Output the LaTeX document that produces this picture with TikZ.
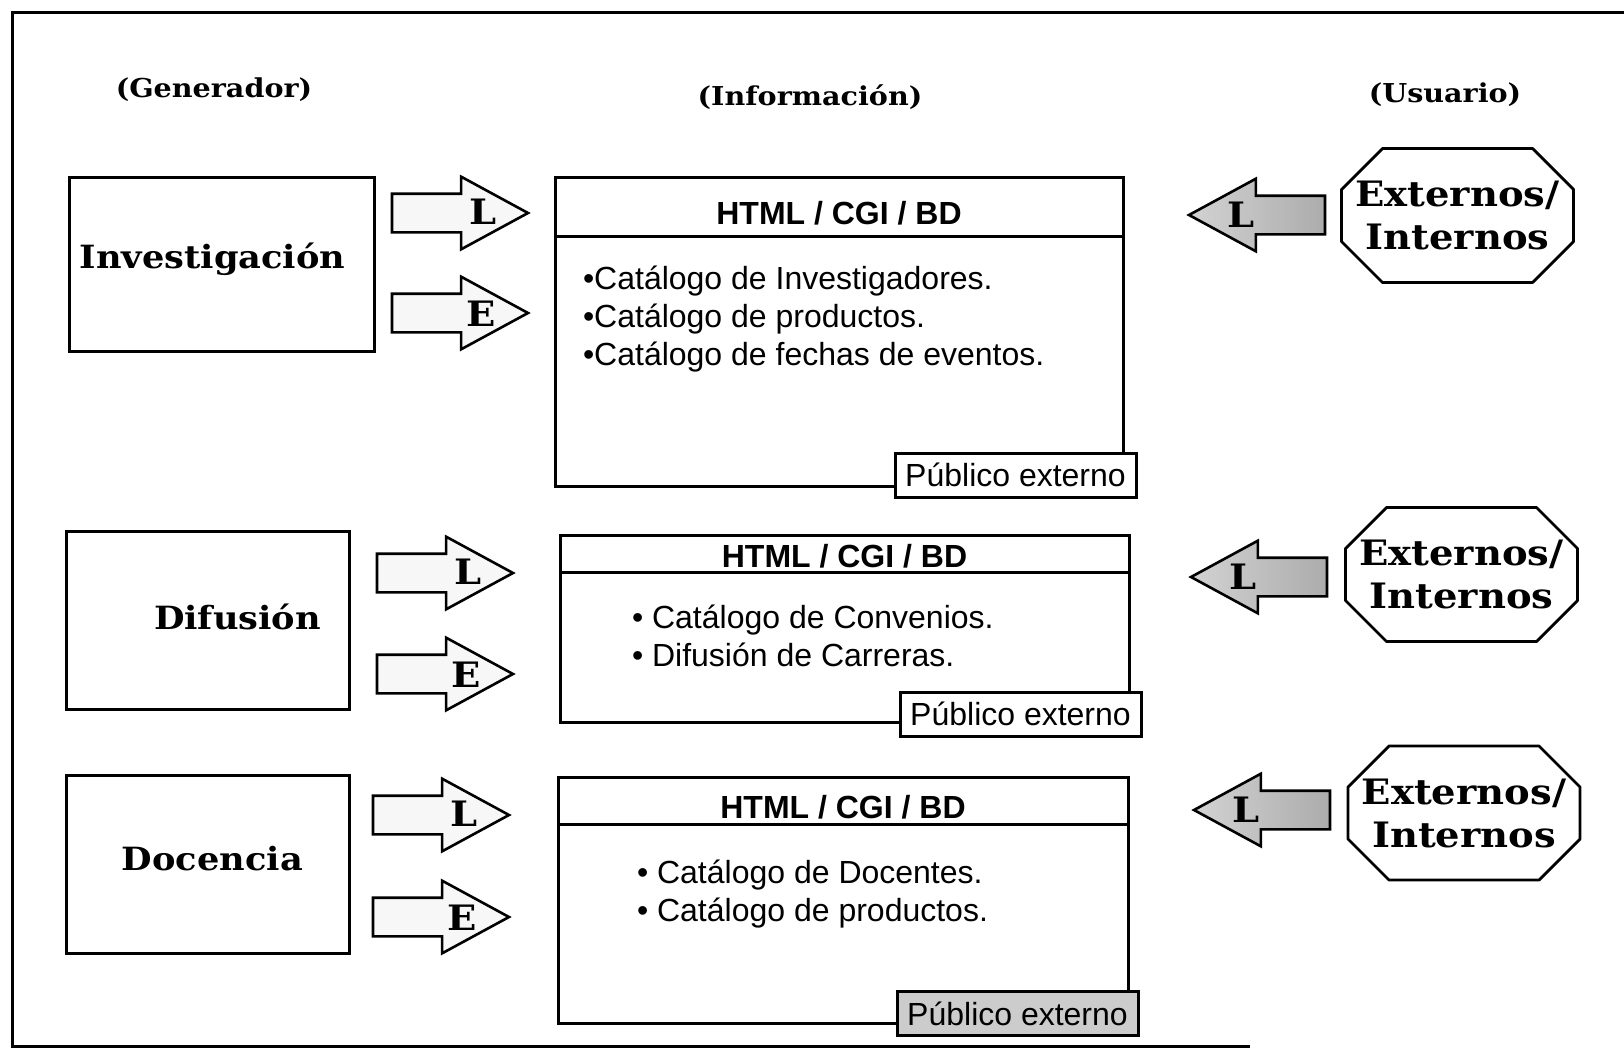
\documentclass[tikz,border=0pt]{standalone}
\usepackage{fontspec}
\setmainfont{DejaVu Serif}[FakeStretch=1.1]
\setsansfont{Liberation Sans}
\usetikzlibrary{positioning,calc,shapes.arrows}

\tikzset{
  every node/.style={inner sep=0pt, outer sep=0pt},
  frameline/.style={line width=3pt},
  coltitle/.style={font=\bfseries\fontsize{26}{30}\selectfont},
  genbox/.style={draw, line width=3pt},
  gentext/.style={font=\bfseries\fontsize{32}{38}\selectfont},
  fwd/.style={single arrow, draw, line width=2.6pt, fill=gray!6, anchor=tail,
    minimum height=136pt, text height=18pt, text depth=18pt,
    single arrow head extend=17pt, single arrow tip angle=57},
  bwd/.style={fwd, shape border rotate=180, left color=gray!35, right color=gray!65},
  arrowtag/.style={font=\bfseries\fontsize{35}{35}\selectfont},
  hdr/.style={draw, line width=3pt, text depth=0pt, font=\fontsize{32}{38}\selectfont\sffamily\bfseries},
  infobody/.style={draw, line width=3pt},
  items/.style={align=left, anchor=west, font=\fontsize{32}{38}\selectfont\sffamily},
  pub/.style={draw, line width=3pt, fill=white, minimum width=241pt, minimum height=44pt,
    font=\fontsize{32}{38}\selectfont\sffamily},
  usr/.style={minimum width=232pt, minimum height=134pt, align=center,
    font=\bfseries\fontsize{35}{43}\selectfont},
  usrline/.style={line width=2.8pt, line join=round}
}

\begin{document}
\begin{tikzpicture}[x=1pt, y=-1pt]
  \useasboundingbox (0,0) rectangle (1624,1049);
  \draw[frameline] (1624,13) -- (12,13) -- (12,1046) -- (1250,1046);

  \node[coltitle] (tgen) at (214,90) {(Generador)};
  \node[coltitle] (tinf) at (810,97) {(Información)};
  \node[coltitle] (tusr) at (1445,95) {(Usuario)};

  \node[genbox, minimum width=305pt, minimum height=174pt] (inv) at (221.5,264) {};
  \node[gentext] (invt) at ($(inv.center)+(-9,-5)$) {Investigación};
  \node[genbox, minimum width=283pt, minimum height=178pt] (dif) at (207.5,620) {};
  \node[gentext] (dift) at ($(dif.center)+(30,-3)$) {Difusión};
  \node[genbox, minimum width=283pt, minimum height=178pt] (doc) at (207.5,864) {};
  \node[gentext] (doct) at ($(doc.center)+(5,-5)$) {Docencia};

  \node[fwd] (lA) at (392,213) {};
  \node[arrowtag] at ($(lA.tip)+(-45,-1)$) {L};
  \node[fwd] (eA) at (392,313) {};
  \node[arrowtag] at ($(eA.tip)+(-47,1)$) {E};
  \node[fwd] (lB) at (377,573) {};
  \node[arrowtag] at ($(lB.tip)+(-45,-1)$) {L};
  \node[fwd] (eB) at (377,674) {};
  \node[arrowtag] at ($(eB.tip)+(-47,1)$) {E};
  \node[fwd] (lC) at (373,815) {};
  \node[arrowtag] at ($(lC.tip)+(-45,-1)$) {L};
  \node[fwd] (eC) at (373,917) {};
  \node[arrowtag] at ($(eC.tip)+(-47,1)$) {E};

  \node[hdr, text height=36pt, minimum width=568pt, minimum height=59pt] (hA) at (839,206.5) {HTML / CGI / BD};
  \node[infobody, minimum width=568pt, minimum height=250pt, below=0pt of hA] (bA) {};
  \node[items] (iA) at ($(bA.north west)+(28,83)$)
    {•Catálogo de Investigadores.\\•Catálogo de productos.\\•Catálogo de fechas de eventos.};
  \node[pub] (pA) at (1015.5,475) {Público externo};

  \node[hdr, text height=27pt, minimum width=569pt, minimum height=37pt] (hB) at (844.5,553.5) {HTML / CGI / BD};
  \node[infobody, minimum width=569pt, minimum height=150pt, below=0pt of hB] (bB) {};
  \node[items] (iB) at ($(bB.north west)+(72,64)$)
    {• Catálogo de Convenios.\\• Difusión de Carreras.};
  \node[pub] (pB) at (1020.5,714) {Público externo};

  \node[hdr, text height=35pt, minimum width=570pt, minimum height=47pt] (hC) at (843,800.5) {HTML / CGI / BD};
  \node[infobody, minimum width=570pt, minimum height=199pt, below=0pt of hC] (bC) {};
  \node[items] (iC) at ($(bC.north west)+(79,70)$)
    {• Catálogo de Docentes.\\• Catálogo de productos.};
  \node[pub, fill=gray!40] (pC) at (1017.5,1013.5) {Público externo};

  \node[bwd] (uA) at (1325,215) {};
  \node[arrowtag] at ($(uA.tip)+(52,0)$) {L};
  \node[bwd] (uB) at (1327,577) {};
  \node[arrowtag] at ($(uB.tip)+(52,0)$) {L};
  \node[bwd] (uC) at (1330,810) {};
  \node[arrowtag] at ($(uC.tip)+(52,0)$) {L};

  \node[usr] (oA) at (1457.5,215.5) {Externos/\\Internos};
  \node[usr] (oB) at (1461.5,574.5) {Externos/\\Internos};
  \node[usr] (oC) at (1464,813) {Externos/\\Internos};
  \foreach \o in {oA,oB,oC}
    \draw[usrline] ($(\o.north west)+(41,0)$) -- ($(\o.north east)+(-41,0)$)
      -- ($(\o.north east)+(0,41)$) -- ($(\o.south east)+(0,-41)$)
      -- ($(\o.south east)+(-41,0)$) -- ($(\o.south west)+(41,0)$)
      -- ($(\o.south west)+(0,-41)$) -- ($(\o.north west)+(0,41)$) -- cycle;
\end{tikzpicture}
\end{document}
